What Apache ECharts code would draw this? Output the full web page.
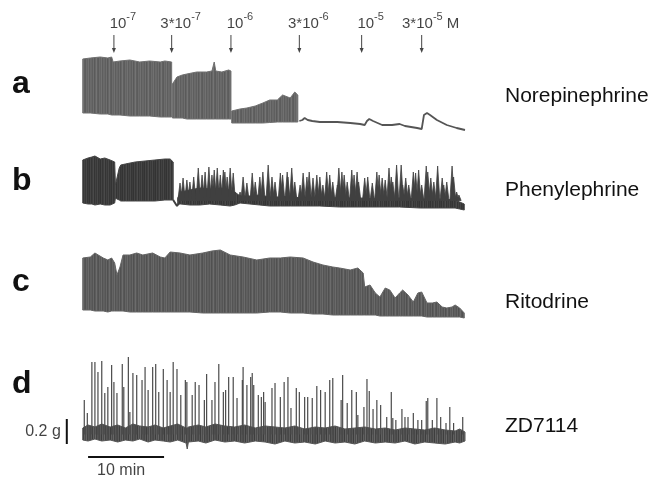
<!DOCTYPE html>
<html>
<head>
<meta charset="UTF-8">
<title>Uterine contraction traces</title>
<script src="https://cdn.jsdelivr.net/npm/echarts@6/dist/echarts.min.js"></script>
<style>
body { margin: 0; background: #fff; }
#main { width: 660px; height: 480px; }
</style>
</head>
<body>
<div id="main"></div>
<script>
// time in min, force in g (relative to resting tone of each trace)
var doseTimes = [4.2, 11.8, 19.6, 28.6, 36.8, 44.7];
var doseCoef = ['', '3*', '', '3*', '', '3*'];
var doseExp = ['-7', '-7', '-6', '-6', '-5', '-5'];
var traceNames = ['Norepinephrine', 'Phenylephrine', 'Ritodrine', 'ZD7114'];
var panelLetters = ['a', 'b', 'c', 'd'];

// a: dense contractions [t, low, high]
var aDense1 = [[0.1,0.072,0.504],[1.1,0.072,0.512],[2.4,0.064,0.52],[3.4,0.064,0.512],[3.9,0.056,0.52],[4.1,0.056,0.48],[5.0,0.056,0.488],[6.3,0.048,0.496],[7.6,0.048,0.48],[8.9,0.048,0.488],[10.3,0.04,0.48],[10.9,0.04,0.488],[11.8,0.04,0.48]];
var aDense2 = [[11.9,0.032,0.304],[12.5,0.032,0.36],[13.2,0.032,0.376],[13.8,0.024,0.384],[15.1,0.024,0.4],[16.4,0.024,0.4],[17.1,0.024,0.408],[17.4,0.024,0.48],[17.6,0.024,0.408],[18.4,0.024,0.4],[19.3,0.024,0.416],[19.6,0.024,0.408]];
var aDense3 = [[19.7,-0.008,0.088],[20.8,-0.008,0.104],[21.7,-0.008,0.112],[22.8,-0.008,0.128],[23.8,-0.008,0.152],[24.7,-0.004,0.176],[25.7,0,0.176],[26.4,0,0.216],[27.4,0,0.192],[28.0,0,0.24],[28.4,0,0.216]];
var aTail = [[28.6,0.008],[29.0,0.016],[29.3,0.032],[29.7,0.016],[30.3,0.008],[31.3,0],[33.6,0],[35.3,-0.008],[36.6,-0.016],[37.2,-0.024],[37.5,0.008],[37.8,0.024],[38.3,0.008],[39.5,-0.024],[40.8,-0.024],[41.8,-0.016],[42.5,-0.032],[44.1,-0.048],[44.7,-0.056],[45.0,0.056],[45.4,0.072],[45.8,0.056],[46.7,0.016],[48.0,-0.024],[49.3,-0.048],[50.4,-0.064]];

// b
var bDense = [[0.1,0,0.344],[0.8,-0.008,0.36],[1.3,-0.008,0.368],[1.7,-0.016,0.376],[2.4,-0.008,0.352],[3.0,-0.016,0.36],[3.7,-0.016,0.344],[4.3,0,0.328],[4.4,0.04,0.144],[4.6,0.032,0.2],[4.9,0.024,0.28],[5.1,0.016,0.304],[5.7,0.016,0.312],[7.0,0.016,0.328],[8.3,0.016,0.336],[9.6,0.016,0.344],[10.9,0.024,0.352],[11.6,0.024,0.352],[12.0,0.024,0.328]];
var bDip = [[12.0,0.024],[12.2,0.008],[12.5,-0.024],[12.8,0]];
var bBase = [[12.6,-0.008,0.04],[13.0,-0.008,0.088],[14.2,-0.016,0.104],[15.5,-0.016,0.12],[16.8,-0.008,0.112],[18.2,-0.016,0.12],[19.5,-0.024,0.104],[20.1,-0.016,0.088],[20.8,0,0.056],[22.1,-0.008,0.056],[23.4,-0.016,0.064],[24.7,-0.024,0.048],[26.1,-0.024,0.048],[27.4,-0.024,0.056],[28.7,-0.024,0.04],[31.3,-0.024,0.048],[33.9,-0.032,0.04],[36.6,-0.032,0.04],[39.2,-0.032,0.032],[41.8,-0.032,0.04],[44.5,-0.04,0.032],[47.1,-0.04,0.032],[49.1,-0.04,0.024],[49.7,-0.048,0.008],[50.3,-0.056,-0.008]];
var bSpikes = [[12.9,0.16],[13.3,0.2],[13.8,0.184],[14.2,0.168],[14.7,0.208],[15.3,0.28],[15.8,0.224],[16.2,0.248],[16.7,0.288],[17.1,0.224],[17.4,0.264],[17.8,0.28],[18.2,0.224],[18.6,0.264],[18.8,0.248],[19.1,0.208],[19.5,0.28],[19.9,0.24],
  [20.8,0.088],[21.2,0.208],[21.7,0.16],[22.4,0.24],[22.8,0.168],[23.4,0.208],[23.8,0.248],[24.5,0.304],[25.0,0.208],[25.4,0.168],[26.1,0.24],[26.4,0.224],[27.0,0.248],[27.1,0.208],[27.6,0.28],[28.0,0.168],[28.7,0.144],[29.1,0.24],[29.6,0.208],[29.9,0.248],[30.4,0.2],[30.9,0.224],[31.3,0.208],[31.7,0.144],[32.2,0.248],[32.6,0.224],[33.0,0.168],[33.6,0.144],[33.8,0.28],[34.2,0.248],[34.5,0.224],[34.9,0.168],[35.5,0.264],[35.8,0.224],[36.2,0.248],[36.4,0.168],[37.2,0.2],[37.6,0.208],[38.2,0.16],[38.8,0.248],[39.1,0.224],[39.5,0.2],[39.9,0.184],[40.4,0.28],[40.7,0.208],[40.9,0.168],[41.4,0.304],[42.0,0.304],[42.2,0.144],[42.6,0.2],[43.0,0.144],[43.6,0.248],[43.9,0.24],[44.3,0.264],[44.7,0.144],[45.3,0.296],[45.5,0.248],[45.9,0.2],[46.3,0.168],[46.8,0.296],[47.4,0.2],[47.6,0.144],[48.0,0.168],[48.7,0.296],[48.9,0.208],[49.3,0.088],[49.6,0.064]];

// c
var cDense = [[0.1,0.048,0.464],[1.1,0.048,0.472],[1.7,0.04,0.504],[2.8,0.04,0.464],[3.4,0.032,0.448],[3.9,0.04,0.464],[4.3,0.04,0.424],[4.6,0.04,0.328],[5.0,0.04,0.392],[5.4,0.04,0.488],[6.3,0.032,0.488],[7.2,0.032,0.504],[8.0,0.032,0.488],[9.3,0.032,0.504],[10.3,0.032,0.472],[10.9,0.032,0.464],[11.6,0.032,0.512],[12.9,0.032,0.504],[14.2,0.032,0.488],[15.9,0.024,0.504],[17.1,0.024,0.52],[18.2,0.024,0.528],[19.5,0.024,0.488],[21.2,0.024,0.472],[23.0,0.024,0.448],[24.7,0.032,0.464],[26.1,0.032,0.464],[27.4,0.024,0.472],[29.1,0.024,0.464],[30.4,0.016,0.432],[31.7,0.016,0.408],[33.0,0.008,0.392],[33.9,0.008,0.384],[35.3,0.008,0.368],[36.3,0.008,0.384],[37.0,0.008,0.344],[37.2,0.008,0.232],[37.9,0.008,0.248],[38.6,0.008,0.184],[39.2,0,0.152],[39.9,0,0.224],[40.5,0,0.208],[41.2,0,0.144],[41.8,0,0.184],[42.2,0,0.208],[42.9,0,0.168],[43.6,0,0.112],[44.2,0,0.184],[44.7,0,0.192],[45.4,-0.008,0.104],[46.1,-0.008,0.104],[46.7,-0.008,0.112],[47.4,-0.008,0.072],[48.0,-0.008,0.064],[48.7,-0.008,0.072],[49.1,-0.008,0.088],[49.7,-0.008,0.064],[50.3,-0.016,0.024]];

// d
var dBase = [[0.1,-0.024,0.072],[0.8,-0.032,0.096],[1.7,-0.016,0.08],[2.6,-0.032,0.104],[3.7,-0.024,0.08],[4.7,-0.04,0.096],[5.7,-0.024,0.072],[6.7,-0.032,0.104],[7.6,-0.016,0.088],[8.7,-0.04,0.08],[9.6,-0.024,0.096],[10.7,-0.032,0.072],[11.6,-0.04,0.088],[12.6,-0.024,0.104],[13.7,-0.048,0.072],[13.85,-0.096,0.072],[14.0,-0.04,0.08],[15.3,-0.032,0.096],[16.3,-0.048,0.08],[17.5,-0.024,0.104],[18.8,-0.04,0.088],[20.1,-0.032,0.08],[21.4,-0.048,0.096],[22.8,-0.032,0.072],[24.1,-0.04,0.088],[25.4,-0.056,0.08],[26.7,-0.032,0.072],[28.0,-0.048,0.088],[29.3,-0.04,0.064],[30.7,-0.056,0.08],[32.0,-0.032,0.072],[33.3,-0.048,0.088],[34.6,-0.04,0.064],[35.9,-0.056,0.072],[37.2,-0.032,0.08],[38.6,-0.048,0.064],[39.9,-0.04,0.072],[41.2,-0.048,0.056],[42.5,-0.032,0.072],[43.8,-0.056,0.064],[45.1,-0.04,0.056],[46.4,-0.048,0.072],[47.8,-0.056,0.056],[49.1,-0.04,0.048],[49.7,-0.048,0.064],[50.4,-0.032,0.04]];
var dSpikes = [[0.3,0.296],[0.7,0.192],[1.3,0.6],[1.7,0.6],[2.1,0.52],[2.6,0.608],[3.0,0.352],[3.4,0.4],[3.9,0.576],[4.2,0.44],[4.6,0.352],[5.3,0.584],[5.5,0.4],[6.1,0.64],[6.3,0.2],[6.7,0.512],[7.2,0.496],[7.9,0.456],[8.3,0.56],[8.7,0.376],[9.3,0.56],[9.7,0.584],[10.1,0.36],[10.7,0.544],[11.2,0.456],[11.6,0.36],[12.0,0.6],[12.5,0.544],[13.0,0.336],[13.6,0.456],[13.8,0.44],[14.5,0.336],[14.9,0.44],[15.4,0.416],[16.1,0.296],[16.4,0.504],[17.1,0.296],[17.5,0.44],[18.0,0.584],[18.6,0.36],[18.9,0.376],[19.3,0.48],[19.9,0.48],[20.4,0.312],[21.1,0.456],[21.2,0.56],[21.7,0.416],[22.2,0.48],[22.4,0.512],[22.6,0.416],[23.2,0.336],[23.6,0.32],[23.9,0.36],[24.1,0.28],[25.0,0.392],[25.4,0.432],[26.1,0.32],[26.6,0.44],[27.1,0.48],[27.5,0.232],[28.2,0.392],[28.6,0.36],[29.3,0.32],[29.7,0.32],[30.3,0.312],[30.9,0.408],[31.4,0.376],[32.0,0.36],[32.6,0.456],[33.0,0.472],[34.1,0.296],[34.3,0.496],[34.9,0.272],[35.5,0.376],[36.1,0.36],[36.3,0.176],[37.1,0.24],[37.5,0.464],[37.8,0.368],[38.3,0.224],[38.8,0.296],[39.3,0.256],[40.1,0.16],[40.7,0.36],[40.9,0.152],[41.3,0.136],[42.1,0.224],[42.5,0.16],[42.9,0.16],[43.6,0.192],[44.2,0.136],[44.7,0.136],[45.3,0.288],[45.5,0.312],[46.1,0.136],[46.7,0.312],[47.2,0.16],[47.9,0.112],[48.4,0.24],[48.9,0.112],[50.1,0.16]];

// scale bars
var timeBar = [[0.8,-0.16],[10.8,-0.16]];
var forceBar = [[-2.0,-0.056],[-2.0,0.144]];

var FONT = '"Liberation Sans", Arial, Helvetica, sans-serif';
var chart = echarts.init(document.getElementById('main'), null, {renderer: 'canvas'});

// soft vertical streak texture for the dense recordings
function streaks(cols) {
  var cv = document.createElement('canvas');
  cv.width = cols.length; cv.height = 2;
  var ctx = cv.getContext('2d');
  for (var k = 0; k < cols.length; k++) { ctx.fillStyle = cols[k]; ctx.fillRect(k, 0, 1, 2); }
  return {image: cv, repeat: 'repeat'};
}
var texA = streaks(['#686868','#5f5f5f','#6e6e6e','#5a5a5a','#666','#747474','#606060','#5c5c5c','#6c6c6c','#646464','#717171','#5e5e5e','#6a6a6a']);
var texB = streaks(['#3c3c3c','#333','#454545','#363636','#3e3e3e','#4a4a4a','#343434','#424242','#383838','#474747','#353535']);
var texC = streaks(['#5e5e5e','#555','#666','#505050','#5c5c5c','#6c6c6c','#585858','#525252','#646464','#5a5a5a','#6a6a6a','#545454','#606060']);
var texD = streaks(['#484848','#5a5a5a','#3e3e3e','#606060','#4c4c4c','#666','#444','#555','#4e4e4e']);

var grids = [
  {top: 0, height: 140, ymin: -0.144, ymax: 0.976},
  {top: 145, height: 80, ymin: -0.176, ymax: 0.464},
  {top: 240, height: 90, ymin: -0.112, ymax: 0.608},
  {top: 345, height: 130, ymin: -0.304, ymax: 0.736}
];
var labelY = [96, 190, 302, 426];
var letterY = [84, 181, 282, 384];

function band(idx, pts, fill, edge) {
  return {
    type: 'custom', xAxisIndex: idx, yAxisIndex: idx, silent: true, clip: false,
    data: pts,
    renderItem: function(params, api) {
      if (params.dataIndex !== 0) return null;
      var top = pts.map(function(p) { return api.coord([p[0], p[2]]); });
      var bot = pts.slice().reverse().map(function(p) { return api.coord([p[0], p[1]]); });
      return {type: 'polygon', shape: {points: top.concat(bot)},
        style: {fill: fill, stroke: edge, lineWidth: 1}};
    }
  };
}

function spikes(idx, pts, color, halfW, lw) {
  return {
    type: 'custom', xAxisIndex: idx, yAxisIndex: idx, silent: true,
    data: pts,
    renderItem: function(params, api) {
      var b = api.coord([api.value(0), 0.02]);
      var p = api.coord([api.value(0), api.value(1)]);
      if (halfW > 0) {
        return {type: 'polygon', shape: {points: [[b[0] - halfW, b[1]], [p[0], p[1]], [b[0] + halfW, b[1]]]},
          style: {fill: color, stroke: color, lineWidth: 0.8}};
      }
      return {type: 'line', shape: {x1: b[0], y1: b[1], x2: p[0], y2: p[1]},
        style: {stroke: color, lineWidth: lw}};
    }
  };
}

function trace(idx, pts, color, w) {
  return {type: 'line', xAxisIndex: idx, yAxisIndex: idx, data: pts, showSymbol: false,
    silent: true, lineStyle: {color: color, width: w}};
}

var series = [
  band(0, aDense1, texA, '#707070'),
  band(0, aDense2, texA, '#707070'),
  band(0, aDense3, texA, '#707070'),
  trace(0, aTail, '#555', 1.8),
  band(1, bDense, texB, '#444'),
  trace(1, bDip, '#3f3f3f', 2),
  band(1, bBase, texB, '#444'),
  spikes(1, bSpikes, '#404040', 2.2, 0),
  band(2, cDense, texC, '#646464'),
  band(3, dBase, texD, '#555'),
  spikes(3, dSpikes, '#4a4a4a', 0, 1.2),
  trace(3, timeBar, '#111', 2),
  trace(3, forceBar, '#111', 2),
  // dose arrows
  {
    type: 'custom', xAxisIndex: 0, yAxisIndex: 0, silent: true,
    data: doseTimes.map(function(t) { return [t, 0.6]; }),
    renderItem: function(params, api) {
      var p1 = api.coord([api.value(0), 0.696]);
      var p2 = api.coord([api.value(0), 0.552]);
      return {type: 'group', children: [
        {type: 'line', shape: {x1: p1[0], y1: p1[1], x2: p2[0], y2: p2[1] - 3}, style: {stroke: '#444', lineWidth: 1}},
        {type: 'polygon', shape: {points: [[p2[0] - 2, p2[1] - 5], [p2[0] + 2, p2[1] - 5], [p2[0], p2[1]]]}, style: {fill: '#444'}}
      ]};
    }
  },
  // dose labels
  {
    type: 'scatter', xAxisIndex: 0, yAxisIndex: 0, symbolSize: 0, silent: true,
    data: doseTimes.map(function(t) { return [t, 0.808]; }),
    label: {
      show: true, position: 'inside', offset: [9, 0], color: '#111', fontFamily: FONT, fontSize: 15, lineHeight: 20,
      formatter: function(p) {
        var i = p.dataIndex;
        return '{b|' + doseCoef[i] + '10}{s|' + doseExp[i] + '}' + (i === doseTimes.length - 1 ? '{b| M}' : '');
      },
      rich: {
        b: {fontSize: 15, fontFamily: FONT, color: '#111', lineHeight: 20, verticalAlign: 'bottom'},
        s: {fontSize: 11, fontFamily: FONT, color: '#111', lineHeight: 12, verticalAlign: 'top'}
      }
    }
  },
  // scale bar labels
  {
    type: 'scatter', xAxisIndex: 3, yAxisIndex: 3, symbolSize: 0, silent: true,
    data: [{value: [5.8, -0.16], label: {position: 'bottom', distance: 6, offset: [-5, 0], formatter: '10 min'}},
           {value: [-2.0, 0.044], label: {position: 'left', distance: 6, formatter: '0.2 g'}}],
    label: {show: true, color: '#111', fontFamily: FONT, fontSize: 16}
  }
];

var graphic = [];
for (var i = 0; i < 4; i++) {
  graphic.push({type: 'text', x: 505, y: labelY[i], silent: true,
    style: {text: traceNames[i], font: '21px ' + FONT, fill: '#111', verticalAlign: 'middle', textVerticalAlign: 'middle'}});
  graphic.push({type: 'text', x: 12, y: letterY[i], silent: true,
    style: {text: panelLetters[i], font: 'bold 32px ' + FONT, fill: '#111', verticalAlign: 'middle', textVerticalAlign: 'middle'}});
}

var option = {
  animation: false,
  backgroundColor: '#fff',
  grid: grids.map(function(g) { return {left: 63, width: 402, top: g.top, height: g.height}; }),
  xAxis: grids.map(function(g, i) { return {type: 'value', gridIndex: i, min: -2.5, max: 50.4, show: false}; }),
  yAxis: grids.map(function(g, i) { return {type: 'value', gridIndex: i, min: g.ymin, max: g.ymax, show: false}; }),
  graphic: graphic,
  series: series
};
chart.setOption(option);
</script>
</body>
</html>
